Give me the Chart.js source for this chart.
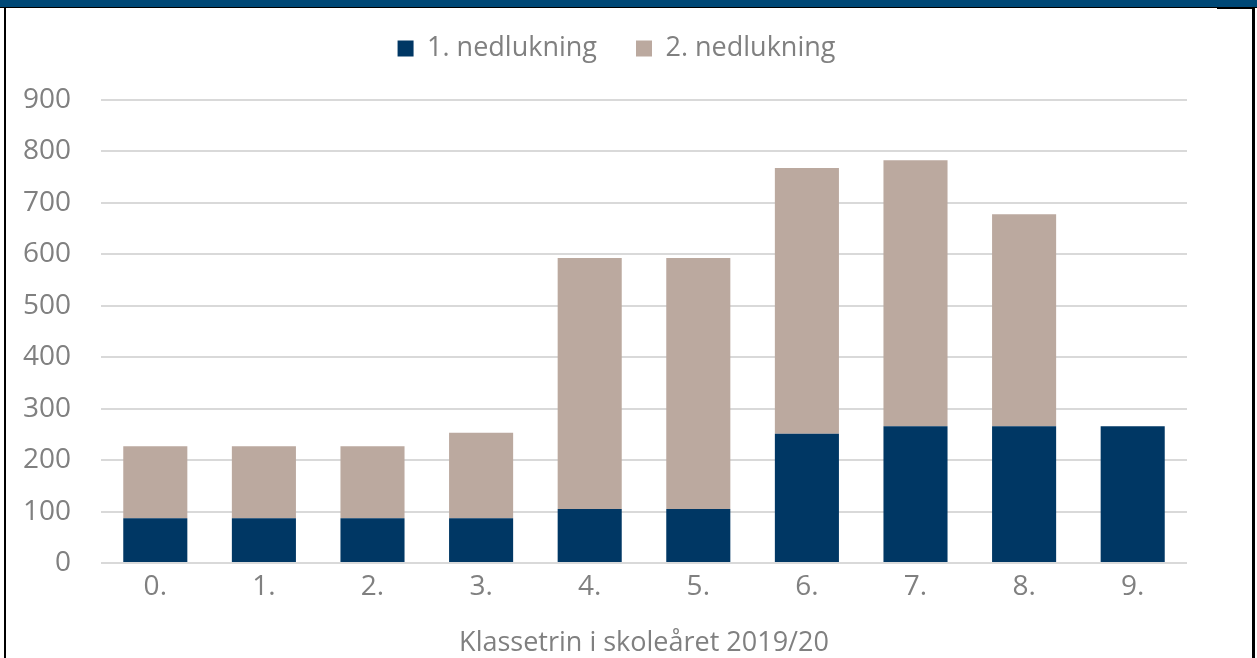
<!DOCTYPE html>
<html>
<head>
<meta charset="utf-8">
<script src="https://cdn.jsdelivr.net/npm/chart.js@4"></script>
<style>
  body { margin: 0; background: #fff; }
  #wrap { position: relative; width: 1257px; height: 658px; overflow: hidden; }
  #topbar { position: absolute; left: 0; top: 0; width: 1257px; height: 7px; background: #004876; border-bottom: 1px solid #000; }
  #leftline { position: absolute; left: 4px; top: 7px; width: 2px; height: 651px; background: #000; }
  #rightline { position: absolute; left: 1252px; top: 7px; width: 3px; height: 651px; background: #000; }
  #rightcap { position: absolute; left: 1217px; top: 8px; width: 36px; height: 1px; background: #000; }
</style>
</head>
<body>
<div id="wrap">
  <canvas id="myChart" width="1257" height="658"></canvas>
  <div id="topbar"></div>
  <div id="leftline"></div>
  <div id="rightline"></div>
  <div id="rightcap"></div>
</div>
<script>
const grades = ['0.', '1.', '2.', '3.', '4.', '5.', '6.', '7.', '8.', '9.'];
const firstLockdown = [87, 87, 87, 87, 105, 105, 251, 266, 266, 266];
const secondLockdown = [140, 140, 140, 166, 488, 488, 517, 517, 412, 0];
const yTicks = [0, 100, 200, 300, 400, 500, 600, 700, 800, 900];
const xTitle = 'Klassetrin i skoleåret 2019/20';

const gray = '#808080';
const font = { family: 'Open Sans', size: 27 };
const tickFont = { family: 'Open Sans', size: 28 };

const ctx = document.getElementById('myChart');

// push the plot area down below the legend
const legendGap = {
  id: 'legendGap',
  beforeInit(chart) {
    const fit = chart.legend.fit;
    chart.legend.fit = function () {
      fit.bind(chart.legend)();
      this.height = 104;
    };
  }
};

new Chart(ctx, {
  type: 'bar',
  data: {
    labels: grades,
    datasets: [{
      label: '1. nedlukning',
      data: firstLockdown,
      backgroundColor: '#003764',
      barPercentage: 0.59,
      categoryPercentage: 1
    }, {
      label: '2. nedlukning',
      data: secondLockdown,
      backgroundColor: '#bba99f',
      barPercentage: 0.59,
      categoryPercentage: 1
    }]
  },
  options: {
    responsive: false,
    animation: false,
    layout: {
      padding: { top: -4, right: 24, left: 0, bottom: 0 }
    },
    plugins: {
      legend: {
        position: 'top',
        labels: {
          color: gray,
          font: font,
          boxWidth: 16,
          boxHeight: 16,
          padding: 39
        }
      },
      tooltip: { enabled: false }
    },
    scales: {
      x: {
        stacked: true,
        grid: { display: false, drawTicks: false },
        border: { display: false },
        ticks: { color: gray, font: tickFont, padding: 7 },
        title: {
          display: true,
          text: xTitle,
          color: gray,
          font: font,
          padding: { top: 4, bottom: -2 }
        },
        afterFit: function (scale) { scale.height = 95; }
      },
      y: {
        stacked: true,
        min: 0,
        max: 900,
        afterBuildTicks: function (scale) {
          scale.ticks = yTicks.map(v => ({ value: v }));
        },
        grid: { color: '#d9d9d9', lineWidth: 2, drawTicks: false },
        border: { display: false },
        ticks: { color: gray, font: tickFont, padding: 30 },
        afterFit: function (scale) { scale.width = 101; }
      },
      // empty right-hand axis, only keeps space right of the plot
      yRight: {
        position: 'right',
        min: 0,
        max: 900,
        grid: { display: false, drawTicks: false },
        border: { display: false },
        ticks: { display: false },
        afterFit: function (scale) { scale.width = 46; }
      }
    }
  },
  plugins: [legendGap]
});
</script>
</body>
</html>
